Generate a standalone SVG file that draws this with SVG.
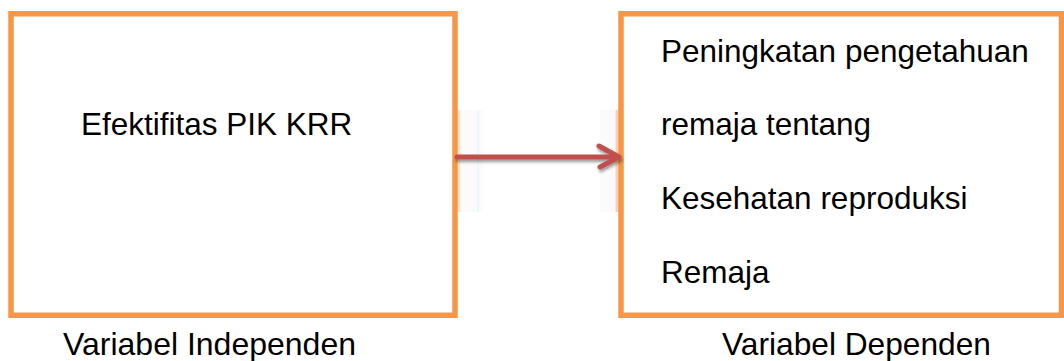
<svg xmlns="http://www.w3.org/2000/svg" width="1064" height="361" viewBox="0 0 1064 361">
  <style>
    .box { fill: #FFFFFF; stroke: #F79646; stroke-width: 5.5; }
    .txt { font-family: "Liberation Sans", Arial, sans-serif; font-size: 31.5px; fill: #000000; }
    .cap { font-family: "Liberation Sans", Arial, sans-serif; font-size: 32px; fill: #000000; }
    .link { fill: none; stroke: #C0504D; stroke-width: 5; stroke-linecap: round; stroke-linejoin: round; }
    .haze { fill: #FBFBFB; }
  </style>
  <defs>
    <filter id="shadow" x="-10%" y="-50%" width="120%" height="200%">
      <feDropShadow dx="1" dy="2.5" stdDeviation="1.5" flood-color="#000000" flood-opacity="0.4"/>
    </filter>
  </defs>

  <rect width="1064" height="361" fill="#FFFFFF"/>

  <!-- soft bands around the connector ends -->
  <g id="bands">
    <rect class="haze" x="417" y="110" width="66" height="102"/>
    <rect class="haze" x="600" y="110" width="58" height="102"/>
    <line x1="459" y1="110" x2="459" y2="212" stroke="#FBE3CF" stroke-width="3"/>
    <line x1="478" y1="110" x2="478" y2="212" stroke="#E6FAFC" stroke-width="2"/>
    <line x1="617" y1="110" x2="617" y2="212" stroke="#F7D2B4" stroke-width="3"/>
    <line x1="638" y1="110" x2="638" y2="212" stroke="#E6FAFC" stroke-width="2"/>
  </g>

  <g id="node-independen">
    <rect class="box" x="11" y="13.75" width="444" height="301.5"/>
    <text class="txt" x="81" y="135">Efektifitas PIK KRR</text>
  </g>

  <g id="node-dependen">
    <rect class="box" x="621" y="13.75" width="440.5" height="301.5"/>
    <text class="txt" x="661" y="62">Peningkatan pengetahuan</text>
    <text class="txt" x="661" y="135">remaja tentang</text>
    <text class="txt" x="661" y="209">Kesehatan reproduksi</text>
    <text class="txt" x="661" y="283">Remaja</text>
  </g>

  <g id="connectors" filter="url(#shadow)">
    <line class="link" x1="457" y1="157" x2="617" y2="157"/>
    <polyline class="link" points="599,146 619,157 600,167"/>
  </g>

  <g id="labels">
    <text class="cap" x="63" y="355" textLength="293" lengthAdjust="spacingAndGlyphs">Variabel Independen</text>
    <text class="cap" x="722" y="355" textLength="269" lengthAdjust="spacingAndGlyphs">Variabel Dependen</text>
  </g>
</svg>
